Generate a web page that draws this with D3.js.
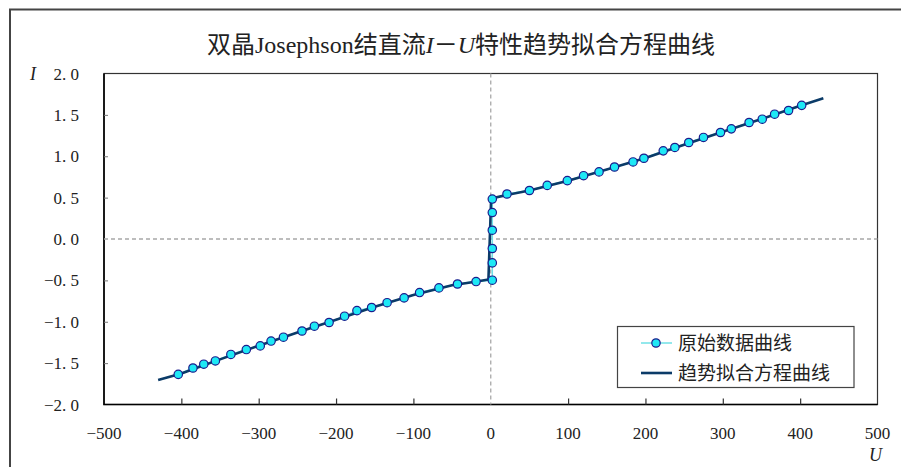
<!DOCTYPE html>
<html>
<head>
<meta charset="utf-8">
<script src="https://cdn.jsdelivr.net/npm/d3@7"></script>
<style>
  html, body { margin: 0; padding: 0; background: #fff; }
  svg text { font-family: "Liberation Serif", "Noto Sans CJK SC", serif; fill: #222; }
</style>
</head>
<body>
<div id="chart"></div>
<script>
// measured data points (U, I)
const dataU = [-404, -385, -371, -356, -336, -316, -298, -284, -268, -244, -228, -209, -189, -173, -154, -134, -112, -92, -67, -43, -19,
  2, 2, 2, 2, 2, 2,
  21, 50, 73, 99, 120, 140, 160, 184, 198, 223, 238, 256, 275, 297, 311, 334, 351, 367, 385, 402];
const dataI = [-1.636, -1.559, -1.513, -1.474, -1.395, -1.336, -1.292, -1.233, -1.187, -1.112, -1.054, -1.009, -0.933, -0.866, -0.828, -0.770, -0.712, -0.647, -0.591, -0.544, -0.514,
  -0.498, -0.289, -0.115, 0.106, 0.320, 0.483,
  0.544, 0.586, 0.648, 0.705, 0.765, 0.811, 0.870, 0.931, 0.976, 1.065, 1.106, 1.166, 1.227, 1.287, 1.331, 1.408, 1.448, 1.508, 1.553, 1.615];

// fitted trend curve
const fitU = [-430, -400, -350, -300, -250, -200, -150, -100, -50, -20, -3, 0.5, 20, 50, 100, 150, 200, 250, 300, 350, 400, 430];
const fitI = [-1.705, -1.625, -1.455, -1.29, -1.13, -0.975, -0.82, -0.676, -0.558, -0.516, -0.49, 0.49, 0.53, 0.586, 0.705, 0.84, 0.98, 1.14, 1.295, 1.45, 1.61, 1.70];

const xTicks = [-500, -400, -300, -200, -100, 0, 100, 200, 300, 400, 500];
const yTicks = [-2.0, -1.5, -1.0, -0.5, 0.0, 0.5, 1.0, 1.5, 2.0];

const titleText = '双晶Josephson结直流';
const legendNames = ['原始数据曲线', '趋势拟合方程曲线'];

const width = 901;
const height = 467;
const plot = { left: 104, top: 73.5, right: 877.5, bottom: 404.5 };

const svg = d3.select('#chart').append('svg')
  .attr('width', width)
  .attr('height', height);

// outer chart frame
svg.append('rect')
  .attr('x', 10).attr('y', 9.5)
  .attr('width', 900).attr('height', 470)
  .attr('fill', 'none')
  .attr('stroke', '#444')
  .attr('stroke-width', 2);

const x = d3.scaleLinear().domain([-500, 500]).range([plot.left, plot.right]);
const y = d3.scaleLinear().domain([-2, 2]).range([plot.bottom, plot.top]);

// title
const title = svg.append('text')
  .attr('x', 461)
  .attr('y', 53)
  .attr('text-anchor', 'middle')
  .style('font-size', '24px');
title.append('tspan').text(titleText);
title.append('tspan').style('font-style', 'italic').text('I');
title.append('tspan').text('－');
title.append('tspan').style('font-style', 'italic').text('U');
title.append('tspan').text('特性趋势拟合方程曲线');

// plot frame
svg.append('rect')
  .attr('x', plot.left).attr('y', plot.top)
  .attr('width', plot.right - plot.left)
  .attr('height', plot.bottom - plot.top)
  .attr('fill', 'none')
  .attr('stroke', '#333')
  .attr('stroke-width', 1.2);
svg.append('path')
  .attr('d', `M${plot.left},${plot.top}V${plot.bottom}H${plot.right}`)
  .attr('fill', 'none')
  .attr('stroke', '#000')
  .attr('stroke-width', 1.6);

// zero lines
svg.append('line')
  .attr('x1', plot.left).attr('x2', plot.right)
  .attr('y1', y(0)).attr('y2', y(0))
  .attr('stroke', '#a8a8a8').attr('stroke-width', 1.3)
  .attr('stroke-dasharray', '4,3');
svg.append('line')
  .attr('x1', x(0)).attr('x2', x(0))
  .attr('y1', plot.top).attr('y2', plot.bottom)
  .attr('stroke', '#a8a8a8').attr('stroke-width', 1.3)
  .attr('stroke-dasharray', '4,3');

// x axis ticks (inside) and labels
const gx = svg.append('g')
  .attr('transform', `translate(0,${plot.bottom})`)
  .call(d3.axisBottom(x).tickValues(xTicks.filter(d => d !== 0 && Math.abs(d) !== 500))
    .tickSizeInner(-6).tickSizeOuter(0).tickFormat(''));
gx.select('.domain').remove();
gx.selectAll('.tick line').attr('stroke', '#333').attr('stroke-width', 1.2);

svg.selectAll('.xlab')
  .data(xTicks)
  .enter()
  .append('text')
  .attr('class', 'xlab')
  .attr('x', d => x(d))
  .attr('y', 439)
  .attr('text-anchor', 'middle')
  .style('font-family', '"Liberation Serif", serif')
  .style('font-size', '17px')
  .text(d => (d < 0 ? '\u2212' : '') + Math.abs(d));

// y axis ticks (inside) and labels
const gy = svg.append('g')
  .attr('transform', `translate(${plot.left},0)`)
  .call(d3.axisLeft(y).tickValues(yTicks.filter(d => d !== 0 && Math.abs(d) !== 2))
    .tickSizeInner(-4).tickSizeOuter(0).tickFormat(''));
gy.select('.domain').remove();
gy.selectAll('.tick line').attr('stroke', '#777').attr('stroke-width', 1);

svg.selectAll('.ylab')
  .data(yTicks)
  .enter()
  .append('text')
  .attr('class', 'ylab')
  .attr('x', 79)
  .attr('y', d => y(d) + 6)
  .attr('text-anchor', 'end')
  .style('font-family', '"Liberation Serif", serif')
  .style('font-size', '17px')
  .style('white-space', 'pre')
  .text(d => (d < 0 ? '\u2212' : '') + Math.abs(d).toFixed(1).replace('.', '. '));

// axis names
svg.append('text')
  .attr('x', 30).attr('y', 80)
  .style('font-size', '18px')
  .style('font-style', 'italic')
  .text('I');
svg.append('text')
  .attr('x', 869).attr('y', 461)
  .style('font-size', '18px')
  .style('font-style', 'italic')
  .text('U');

// raw data line
const rawPts = dataU.map((u, i) => [u, dataI[i]]);
const fitPts = fitU.map((u, i) => [u, fitI[i]]);
const line = d3.line().x(d => x(d[0])).y(d => y(d[1]));

svg.append('path')
  .attr('d', line(rawPts))
  .attr('fill', 'none')
  .attr('stroke', '#6fe0e6')
  .attr('stroke-width', 1.5);

// trend fit
svg.append('path')
  .attr('d', line(fitPts))
  .attr('fill', 'none')
  .attr('stroke', '#0b3b68')
  .attr('stroke-width', 2.6)
  .attr('stroke-linejoin', 'round');

// markers
svg.selectAll('.pt')
  .data(rawPts)
  .enter()
  .append('circle')
  .attr('class', 'pt')
  .attr('cx', d => x(d[0]))
  .attr('cy', d => y(d[1]))
  .attr('r', 4.2)
  .attr('fill', '#1ee8f5')
  .attr('stroke', '#1c1c8c')
  .attr('stroke-width', 1.2);

// legend
const lg = svg.append('g');
lg.append('rect')
  .attr('x', 617.5).attr('y', 326.5)
  .attr('width', 236.5).attr('height', 61)
  .attr('fill', '#fff')
  .attr('stroke', '#444')
  .attr('stroke-width', 1.2);
lg.append('line')
  .attr('x1', 641).attr('x2', 672).attr('y1', 343).attr('y2', 343)
  .attr('stroke', '#6fe0e6').attr('stroke-width', 1.5);
lg.append('circle')
  .attr('cx', 656).attr('cy', 343).attr('r', 4.2)
  .attr('fill', '#1ee8f5').attr('stroke', '#1c1c8c').attr('stroke-width', 1.2);
lg.append('line')
  .attr('x1', 641).attr('x2', 672).attr('y1', 373).attr('y2', 373)
  .attr('stroke', '#0b3b68').attr('stroke-width', 2.6);
legendNames.forEach((name, i) => {
  lg.append('text')
    .attr('x', 678)
    .attr('y', 350 + i * 30)
    .style('font-size', '19px')
    .text(name);
});
</script>
</body>
</html>
